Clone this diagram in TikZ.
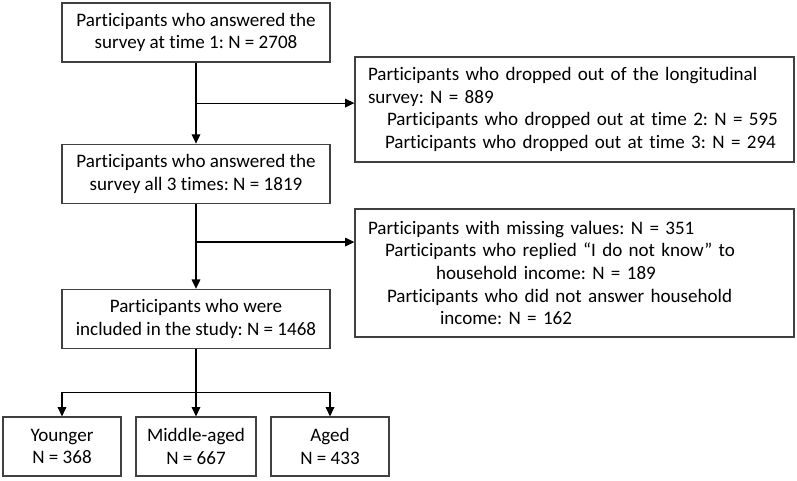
\documentclass[tikz,border=0pt]{standalone}
\usepackage{fontspec}
\setmainfont{Carlito}[Ligatures=NoCommon]
\usetikzlibrary{arrows.meta}
\usetikzlibrary{positioning}
\frenchspacing

\begin{document}
\begin{tikzpicture}[x=0.75pt,y=-0.75pt,font=\fontsize{14.3}{17}\selectfont,
  box/.style={draw=black!75,line width=0.9pt,align=center,minimum width=201pt,minimum height=44.25pt,inner sep=0pt},
  side/.style={draw=black!75,line width=0.9pt,align=left,text width=309.75pt,inner xsep=9.75pt,inner ysep=0pt},
  small/.style={box,minimum width=88.5pt},
  arr/.style={line width=0.9pt,-{Triangle[length=7pt,width=6.5pt]}}]
\useasboundingbox (0,0) rectangle (797,480);

\node [box] (t1) at (196,32.5) {Participants who answered the\\survey at time 1: N = 2708};
\node [box,below=60.75pt of t1] (t3) {Participants who answered the\\survey all 3 times: N = 1819};
\node [box,below=63.75pt of t3] (incl) {Participants who were\\included in the study: N = 1468};

\node [side,minimum height=78.75pt] (drop) at (574.5,109.5) {Participants who dropped out of the longitudinal\\survey: N = 889\\
\hspace*{14.25pt}Participants who dropped out at time 2: N = 595\\
\hspace*{12.75pt}Participants who dropped out at time 3: N = 294};
\node [side,minimum height=96pt] (miss) at (574.5,273) {Participants with missing values: N = 351\\
\hspace*{12.75pt}Participants who replied “I do not know” to\\
\hspace*{51pt}household income: N = 189\\
\hspace*{14.25pt}Participants who did not answer household\\
\hspace*{54pt}income: N = 162};

\node [small] (young) at (62,446.5) {Younger\\N = 368};
\node [small,minimum width=90pt] (middle) at (196,446.5) {Middle-aged\\N = 667};
\node [small] (aged) at (330,446.5) {Aged\\N = 433};

\path (t1.south) -- (t3.north) coordinate[pos=0.5] (c1);
\path (t3.south) -- (incl.north) coordinate[pos=0.45] (c2);
\path (incl.south) -- (middle.north) coordinate[pos=0.64] (split);

\draw [arr] (t1) -- (t3);
\draw [arr] (c1) -- (c1 -| drop.west);
\draw [arr] (t3) -- (incl);
\draw [arr] (c2) -- (c2 -| miss.west);

\draw [arr] (incl) -- (middle);
\draw [line width=0.9pt] (split -| young) -- (split -| aged);
\draw [arr] (split -| young) -- (young);
\draw [arr] (split -| aged) -- (aged);
\end{tikzpicture}
\end{document}
